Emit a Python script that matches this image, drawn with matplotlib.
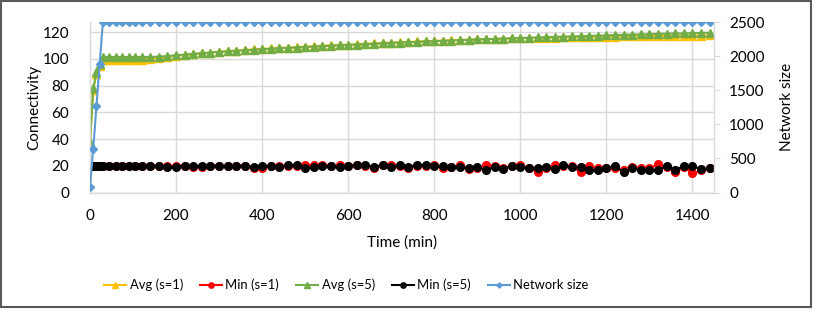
import matplotlib
matplotlib.use("Agg")
import matplotlib.pyplot as plt
from matplotlib.patches import Rectangle

plt.rcParams['font.family'] = ['Lato', 'DejaVu Sans']

# ---- data ----
time_min = [0, 7.5, 15, 22.5, 30, 45, 60, 75, 90, 105, 120] + list(range(140, 1441, 20))

avg_s1 = [37, 77, 89, 95, 99.5, 99.5, 99.5, 99.5, 99.5, 99.5, 99.6,
          100.0, 100.8, 101.6, 102.4, 103.0, 103.6, 104.2, 104.8, 105.4, 105.9,
          106.3, 106.8, 107.2, 107.6, 107.9, 108.3, 108.6, 108.9, 109.3, 109.6,
          109.9, 110.2, 110.5, 110.8, 111.1, 111.4, 111.7, 112.0, 112.3, 112.6,
          112.8, 113.1, 113.4, 113.6, 113.8, 114.0, 114.3, 114.5, 114.7, 114.9,
          115.1, 115.3, 115.4, 115.6, 115.7, 115.8, 115.9, 116.0, 116.1, 116.3,
          116.4, 116.5, 116.6, 116.7, 116.8, 116.9, 117.0, 117.0, 117.1, 117.2,
          117.3, 117.3, 117.4, 117.5, 117.5, 117.6]
min_s1 = [20, 20, 20, 20, 20, 20, 20, 20, 20, 20, 20,
          20, 20, 19.5, 20, 20, 19, 19, 20, 20, 20, 20, 20, 18, 18, 20, 20,
          20, 20, 20.5, 20.5, 20.5, 20, 20.5, 20, 20.5, 20, 18, 20.5, 20.5, 20,
          18, 20, 20, 20.5, 18, 19.3, 20.5, 17.3, 18, 20.5, 20,
          18, 19.5, 20.5, 18, 15.5, 18,
          20.5, 19.8, 19.8, 15, 19.8, 18, 18, 18, 16.8, 19.3, 18, 18, 21.3,
          19.3, 15, 19.3, 14.3, 16.5, 18]
avg_s5 = [38, 78, 90, 96, 101.5, 101.5, 101.5, 101.5, 101.5, 101.5, 101.5,
          101.5, 101.8, 102.2, 102.8, 103.3, 103.8, 104.3, 104.8, 105.3, 105.7,
          106.1, 106.5, 106.9, 107.3, 107.6, 108.0, 108.3, 108.6, 109.0, 109.3,
          109.6, 109.9, 110.2, 110.5, 110.8, 111.1, 111.4, 111.7, 112.0, 112.3,
          112.5, 112.8, 113.1, 113.3, 113.6, 113.8, 114.1, 114.3, 114.6, 114.8,
          115.0, 115.3, 115.5, 115.7, 115.9, 116.1, 116.3, 116.5, 116.7, 116.9,
          117.1, 117.3, 117.5, 117.7, 117.9, 118.1, 118.2, 118.4, 118.6, 118.8,
          118.9, 119.1, 119.2, 119.4, 119.5, 119.7]
min_s5 = [20, 20, 20, 20, 20, 20, 20, 20, 20, 20, 20,
          20, 20, 19, 19, 20, 20, 20, 20, 20, 20, 20, 20, 19, 19.5, 20, 19,
          20.5, 20.5, 18, 18.8, 19.8, 19.8, 18.8, 19.8, 20.5, 20.5, 19.3, 20.5,
          18.8, 20.5, 19.3, 20.5, 20.5, 19.8, 19.8, 19.3, 19.3, 18, 19.3, 16.5, 19.3,
          17.5, 20, 19.3, 18, 18, 19.3,
          17.3, 20.5, 18.8, 19.3, 16.8, 16.8, 18, 19.8, 15, 18, 16.8, 16.8, 16.8,
          19.8, 16.8, 19.8, 19.8, 17.3, 18]
network_size = [85, 640, 1262, 1890, 2500] + [2500] * 72

x_ticks = [0, 200, 400, 600, 800, 1000, 1200, 1400]
y_ticks = [0, 20, 40, 60, 80, 100, 120]
y2_ticks = [0, 500, 1000, 1500, 2000, 2500]

# ---- figure ----
fig = plt.figure(figsize=(8.14, 3.10), dpi=100)
ax = fig.add_axes([90/814, 1-192.5/310, (714-90)/814, (192.5-22)/310])
ax2 = ax.twinx()

grid_c = '#D9D9D9'
fs = 11
lfs = 9.4

l1, = ax.plot(time_min, avg_s1, color='#FFC000', marker='^', markersize=5.5, lw=1.5, label='Avg (s=1)')
l2, = ax.plot(time_min, min_s1, color='#FF0000', marker='o', markersize=5.5, lw=1.5, label='Min (s=1)')
l3, = ax.plot(time_min, avg_s5, color='#70AD47', marker='^', markersize=5.5, lw=1.5, label='Avg (s=5)')
l4, = ax.plot(time_min, min_s5, color='#000000', marker='o', markersize=5.5, lw=1.5, label='Min (s=5)')
l5, = ax2.plot(time_min, network_size, color='#5B9BD5', marker='D', markersize=3.8, lw=1.5, label='Network size')

ax.set_xlim(0, 1450)
ax.set_ylim(0, 127.7)
ax2.set_ylim(0, 2500)
ax.set_xticks(x_ticks)
ax.set_yticks(y_ticks)
ax2.set_yticks(y2_ticks)

ax.grid(True, color=grid_c, lw=1)
ax.set_axisbelow(True)
for a in (ax, ax2):
    a.spines['top'].set_visible(False)
    for s in ('left', 'bottom', 'right'):
        a.spines[s].set_color(grid_c)
        a.spines[s].set_linewidth(1)
ax.spines['right'].set_visible(False)
ax2.spines['left'].set_visible(False)
ax2.spines['bottom'].set_visible(False)

ax.tick_params(axis='both', length=0, labelsize=fs, colors='#000000')
ax.tick_params(axis='y', pad=15)
ax.tick_params(axis='x', pad=12)
ax2.tick_params(axis='y', length=4, color=grid_c, labelsize=fs, pad=7)

ax.set_xlabel('Time (min)', fontsize=fs, labelpad=9)
ax.set_ylabel('Connectivity', fontsize=fs, labelpad=1)
ax2.set_ylabel('Network size', fontsize=fs, labelpad=11)

fig.legend(handles=[l1, l2, l3, l4, l5], loc='center left',
           bbox_to_anchor=(99/814, 1-285/310), ncol=5, frameon=False,
           fontsize=lfs, handlelength=1.7, handletextpad=0.25, columnspacing=1.3,
           markerscale=0.7, borderaxespad=0)

fig.patches.append(Rectangle((1/814, 1-307/310), 810/814, 306/310,
                             transform=fig.transFigure, fill=False,
                             edgecolor='#595959', lw=1.5))

fig.savefig('out.png', dpi=100)
